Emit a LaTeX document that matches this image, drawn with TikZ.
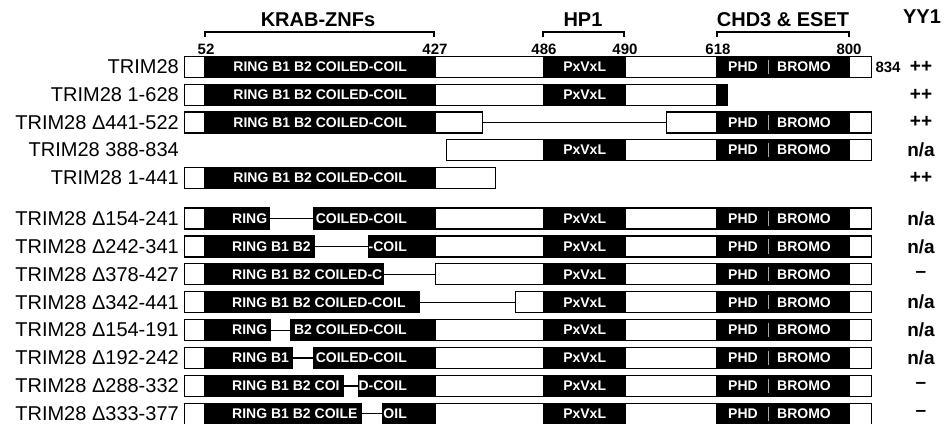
\documentclass[tikz,border=0pt]{standalone}
\usepackage{fontspec}
\setmainfont{Liberation Sans}
\usepackage{tikz}

\begin{document}
\begin{tikzpicture}[
    x=1pt, y=-1pt,
    every node/.style={inner sep=0pt},
    piece/.style={rectangle, draw=black, fill=white, line width=1.3pt,
                  minimum height=21pt, anchor=west},
    dom/.style={piece, fill=black, text=white, font=\bfseries\fontsize{14}{14}\selectfont},
    domtext/.style={text=white, font=\bfseries\fontsize{14}{14}\selectfont},
    gapline/.style={line width=1.2pt},
    divider/.style={draw=black!35, line width=0.8pt},
    rowlabel/.style={anchor=east, font=\fontsize{20}{24}\selectfont},
    yyval/.style={font=\bfseries\fontsize{19}{22}\selectfont},
    header/.style={font=\bfseries\fontsize{20}{24}\selectfont},
    resnum/.style={font=\bfseries\fontsize{15}{18}\selectfont},
    bracket/.style={line width=1.3pt}
]
\useasboundingbox (0,0) rectangle (944,423);

% Headers and binding regions
\node[header] (krab) at (318,20) {KRAB-ZNFs};
\node[header] (hp1) at (583,20) {HP1};
\node[header] (chd) at (783,20) {CHD3 \& ESET};
\node[header] (yy1) at (922,17) {YY1};
\draw[bracket] (205,37) -- (205,32) -- (434,32) -- (434,37);
\draw[bracket] (543,37) -- (543,32) -- (624,32) -- (624,37);
\draw[bracket] (717,37) -- (717,32) -- (849,32) -- (849,37);
\node[resnum] (n52) at (206,49) {52};
\node[resnum] (n427) at (435,49) {427};
\node[resnum] (n486) at (544,49) {486};
\node[resnum] (n490) at (625,49) {490};
\node[resnum] (n618) at (718,49) {618};
\node[resnum] (n800) at (849,49) {800};
\node[resnum] (n834) at (888,67) {834};

% Row labels and YY1 binding
\foreach \n/\y/\name/\yy in {1/67/TRIM28/++, 2/94.7/TRIM28 1-628/++,
    3/122.4/TRIM28 Δ441-522/++, 4/150.1/TRIM28 388-834/{n/a},
    5/177.8/TRIM28 1-441/++, 6/218.5/TRIM28 Δ154-241/{n/a},
    7/246.4/TRIM28 Δ242-341/{n/a}, 8/274.3/TRIM28 Δ378-427/–,
    9/302.2/TRIM28 Δ342-441/{n/a}, 10/330.1/TRIM28 Δ154-191/{n/a},
    11/358/TRIM28 Δ192-242/{n/a}, 12/385.9/TRIM28 Δ288-332/–,
    13/413.8/TRIM28 Δ333-377/–}
{
    \node[rowlabel] (lab\n) at (179,\y) {\name};
    \node[yyval] (yy\n) at (921,\y) {\yy};
}

% Outline of each construct
\node[piece, minimum width=687pt] (b1) at (184,67) {};
\node[piece, minimum width=543pt] (b2) at (184,94.7) {};
\node[piece, minimum width=298pt] (b3a) at (184,122.4) {};
\node[piece, minimum width=205pt] (b3b) at (666,122.4) {};
\node[piece, minimum width=425pt] (b4) at (446,150.1) {};
\node[piece, minimum width=311pt] (b5) at (184,177.8) {};
\node[piece, minimum width=85pt] (b6a) at (184,218.5) {};
\node[piece, minimum width=558pt] (b6b) at (313,218.5) {};
\node[piece, minimum width=130pt] (b7a) at (184,246.4) {};
\node[piece, minimum width=503pt] (b7b) at (368,246.4) {};
\node[piece, minimum width=199pt] (b8a) at (184,274.3) {};
\node[piece, minimum width=436pt] (b8b) at (435,274.3) {};
\node[piece, minimum width=235pt] (b9a) at (184,302.2) {};
\node[piece, minimum width=356pt] (b9b) at (515,302.2) {};
\node[piece, minimum width=86pt] (b10a) at (184,330.1) {};
\node[piece, minimum width=581pt] (b10b) at (290,330.1) {};
\node[piece, minimum width=108pt] (b11a) at (184,358) {};
\node[piece, minimum width=558pt] (b11b) at (313,358) {};
\node[piece, minimum width=159pt] (b12a) at (184,385.9) {};
\node[piece, minimum width=513pt] (b12b) at (358,385.9) {};
\node[piece, minimum width=177pt] (b13a) at (184,413.8) {};
\node[piece, minimum width=489pt] (b13b) at (382,413.8) {};

% RING B1 B2 COILED-COIL
\foreach \n/\y in {1/67, 2/94.7, 3/122.4, 5/177.8}
    \node[dom, minimum width=231pt] (k\n) at (204,\y) {RING B1 B2 COILED-COIL};
\node[dom, minimum width=65pt] (k6a) at (204,218.5) {};
\node[dom, minimum width=122pt] (k6b) at (313,218.5) {};
\node[dom, minimum width=110pt] (k7a) at (204,246.4) {};
\node[dom, minimum width=67pt] (k7b) at (368,246.4) {};
\node[dom, minimum width=179pt] (k8a) at (204,274.3) {};
\node[dom, minimum width=215pt] (k9a) at (204,302.2) {};
\node[dom, minimum width=66pt] (k10a) at (204,330.1) {};
\node[dom, minimum width=145pt] (k10b) at (290,330.1) {};
\node[dom, minimum width=88pt] (k11a) at (204,358) {};
\node[dom, minimum width=122pt] (k11b) at (313,358) {};
\node[dom, minimum width=139pt] (k12a) at (204,385.9) {};
\node[dom, minimum width=77pt] (k12b) at (358,385.9) {};
\node[dom, minimum width=157pt] (k13a) at (204,413.8) {};
\node[dom, minimum width=53pt] (k13b) at (382,413.8) {};

% Text left in the deleted RBCC domains
\node[domtext, anchor=west] (t6a) at (232,218.5) {RING};
\node[domtext, anchor=east] (t6b) at (407,218.5) {COILED-COIL};
\node[domtext, anchor=west] (t7a) at (232,246.4) {RING B1 B2};
\node[domtext, anchor=east] (t7b) at (407,246.4) {-COIL};
\node[domtext, anchor=west] (t8a) at (232,274.3) {RING B1 B2 COILED-C};
\node[domtext, anchor=west] (t9a) at (232,302.2) {RING B1 B2 COILED-COIL};
\node[domtext, anchor=west] (t10a) at (232,330.1) {RING};
\node[domtext, anchor=east] (t10b) at (407,330.1) {B2 COILED-COIL};
\node[domtext, anchor=west] (t11a) at (232,358) {RING B1};
\node[domtext, anchor=east] (t11b) at (407,358) {COILED-COIL};
\node[domtext, anchor=west] (t12a) at (232,385.9) {RING B1 B2 COI};
\node[domtext, anchor=east] (t12b) at (407,385.9) {D-COIL};
\node[domtext, anchor=west] (t13a) at (232,413.8) {RING B1 B2 COILE};
\node[domtext, anchor=east] (t13b) at (407,413.8) {OIL};

% PxVxL
\foreach \n/\y in {1/67, 2/94.7, 4/150.1, 6/218.5, 7/246.4, 8/274.3, 9/302.2,
                   10/330.1, 11/358, 12/385.9, 13/413.8}
    \node[dom, minimum width=82pt] (x\n) at (543,\y) {PxVxL};

% PHD and BROMO
\foreach \n/\y in {1/67, 3/122.4, 4/150.1, 6/218.5, 7/246.4, 8/274.3, 9/302.2,
                   10/330.1, 11/358, 12/385.9, 13/413.8}
{
    \node[dom, minimum width=133pt] (c\n) at (716,\y) {};
    \node[domtext] (phd\n) at (743,\y) {PHD};
    \node[domtext] (brm\n) at (804,\y) {BROMO};
    \draw[divider] ([xshift=52pt, yshift=-4pt]c\n.north west) -- ([xshift=52pt, yshift=4pt]c\n.south west);
}
\node[dom, minimum width=11pt] (c2) at (716,94.7) {};

% Deletions
\draw[gapline] (b3a.east) -- (b3b.west);
\draw[gapline] (b6a.east) -- (b6b.west);
\draw[gapline] (b7a.east) -- (b7b.west);
\draw[gapline] (b8a.east) -- (b8b.west);
\draw[gapline] (b9a.east) -- (b9b.west);
\draw[gapline] (b10a.east) -- (b10b.west);
\draw[gapline] (b11a.east) -- (b11b.west);
\draw[gapline] (b12a.east) -- (b12b.west);
\draw[gapline] (b13a.east) -- (b13b.west);

\end{tikzpicture}
\end{document}
